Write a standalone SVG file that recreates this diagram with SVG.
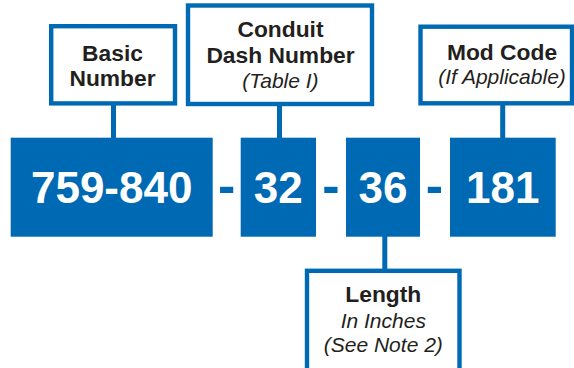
<svg xmlns="http://www.w3.org/2000/svg" width="574" height="368" viewBox="0 0 574 368">
<style>
.lbl{fill:#fff;stroke:#0069B4;stroke-width:4.4}
.blk{fill:#0069B4}
.con{stroke:#0069B4;stroke-width:5;fill:none}
.t{font-family:"Liberation Sans",Arial,sans-serif;fill:#231F20;text-anchor:middle}
.b{font-weight:bold;font-size:22.8px}
.i{font-style:italic;font-size:21px}
.num{font-family:"Liberation Sans",Arial,sans-serif;font-weight:bold;font-size:44px;fill:#fff;text-anchor:middle}
.dash{font-family:"Liberation Sans",Arial,sans-serif;font-weight:bold;font-size:52px;fill:#0069B4;text-anchor:middle}
</style>
<rect width="574" height="368" fill="#fff"/>
<g id="connectors">
<line class="con" x1="113.5" y1="104" x2="113.5" y2="139"/>
<line class="con" x1="279.5" y1="105" x2="279.5" y2="139"/>
<line class="con" x1="502.7" y1="104" x2="502.7" y2="139"/>
<line class="con" x1="384.8" y1="236" x2="384.8" y2="270"/>
</g>
<g id="basic-number">
<rect class="lbl" x="51.2" y="26.2" width="123.8" height="77.2"/>
<text class="t b" x="112.5" y="61">Basic</text>
<text class="t b" x="112.5" y="85.7">Number</text>
</g>
<g id="conduit-dash-number">
<rect class="lbl" x="188" y="5.5" width="184" height="98.5"/>
<text class="t b" x="280.5" y="36.7">Conduit</text>
<text class="t b" x="280.5" y="63.3">Dash Number</text>
<text class="t i" x="280.5" y="88.3">(Table I)</text>
</g>
<g id="mod-code">
<rect class="lbl" x="420.5" y="26.7" width="151.5" height="76.6"/>
<text class="t b" x="502" y="60">Mod Code</text>
<text class="t i" x="502" y="84">(If Applicable)</text>
</g>
<g id="length">
<rect class="lbl" x="307" y="270.8" width="152.5" height="110"/>
<text class="t b" x="383.3" y="302.3">Length</text>
<text class="t i" x="383.3" y="327.7">In Inches</text>
<text class="t i" x="383.3" y="351.7">(See Note 2)</text>
</g>
<g id="part-759-840">
<rect class="blk" x="10.7" y="137.7" width="202" height="99"/>
<text class="num" x="111.7" y="203.3">759-840</text>
</g>
<g id="part-32">
<rect class="blk" x="240.7" y="137.7" width="75.3" height="99"/>
<text class="num" x="278.3" y="203.3">32</text>
</g>
<g id="part-36">
<rect class="blk" x="346" y="137.7" width="74" height="99"/>
<text class="num" x="383" y="203.3">36</text>
</g>
<g id="part-181">
<rect class="blk" x="450" y="137.7" width="105.7" height="99"/>
<text class="num" x="502.8" y="203.3">181</text>
</g>
<g id="dashes">
<text class="dash" x="226.7" y="202.5">-</text>
<text class="dash" x="331" y="202.5">-</text>
<text class="dash" x="434.5" y="202.5">-</text>
</g>
</svg>
